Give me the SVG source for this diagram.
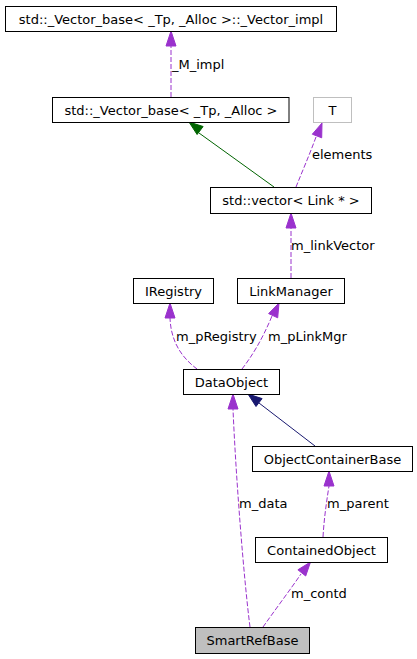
<svg xmlns="http://www.w3.org/2000/svg" width="417" height="659" viewBox="0 0 417 659">
<style>
text{font-family:"DejaVu Sans","Liberation Sans",sans-serif;font-size:13px;fill:#000}
.n{text-anchor:middle}
.box{fill:#fff;stroke:#000;stroke-width:1}
.ref{fill:none;stroke:#9a32cd;stroke-width:1;stroke-dasharray:5,2}
.ah{fill:#9a32cd;stroke:#9a32cd}
</style>
<rect width="417" height="659" fill="#fff"/>
<g id="connectors">
<path class="ref" d="M171,97 L171,46"/>
<polygon class="ah" points="171,31 166,46 176,46"/>
<path d="M274,187 L199,133" fill="none" stroke="#006400"/>
<polygon fill="#006400" stroke="#006400" points="189,122 203.1,126.5 197.1,134.5"/>
<path class="ref" d="M296,187 C302,172 309,156 316,137"/>
<polygon class="ah" points="322,123 321.7,137.8 312.3,134.2"/>
<path class="ref" d="M291,278 L291,228"/>
<polygon class="ah" points="291,213 286,228 296,228"/>
<path class="ref" d="M197,369 C185,360 171,345 170,318"/>
<polygon class="ah" points="170,303 165,318 175,318"/>
<path class="ref" d="M242,369 C252,356 262,340 272,316"/>
<polygon class="ah" points="279,303 277.7,317.8 268.6,313.6"/>
<path d="M315,446 L259,403" fill="none" stroke="#191970"/>
<polygon fill="#191970" stroke="#191970" points="248,394 262.1,398.6 256,406.5"/>
<path class="ref" d="M250,627 C244,580 236,480 233,409"/>
<polygon class="ah" points="233,394 228,409 238,409"/>
<path class="ref" d="M323,537 C324,520 326,505 329,486"/>
<polygon class="ah" points="329,471 324,486 334,486"/>
<path class="ref" d="M263,627 C275,610 290,590 301,574"/>
<polygon class="ah" points="310.5,562 305.7,576 297.9,569.8"/>
<text x="172" y="69">_M_impl</text>
<text x="312" y="159">elements</text>
<text x="291" y="250">m_linkVector</text>
<text x="176" y="341">m_pRegistry</text>
<text x="268" y="341">m_pLinkMgr</text>
<text x="239" y="508">m_data</text>
<text x="327" y="508">m_parent</text>
<text x="291" y="598">m_contd</text>
</g>
<g id="vector_impl"><rect class="box" x="5.5" y="6.5" width="331" height="25"/><text class="n" x="171" y="23.5">std::_Vector_base&lt; _Tp, _Alloc &gt;::_Vector_impl</text></g>
<g id="vector_base"><rect class="box" x="52.5" y="97.5" width="236.5" height="25"/><text class="n" x="171" y="114.5">std::_Vector_base&lt; _Tp, _Alloc &gt;</text></g>
<g id="T"><rect x="313.5" y="97.5" width="38" height="25" fill="#fff" stroke="#bfbfbf"/><text class="n" x="332.5" y="114.5">T</text></g>
<g id="vector_link"><rect class="box" x="210.5" y="187.5" width="161" height="26"/><text class="n" x="291" y="205">std::vector&lt; Link * &gt;</text></g>
<g id="IRegistry"><rect class="box" x="133.5" y="278.5" width="80" height="25"/><text class="n" x="173.5" y="295.5">IRegistry</text></g>
<g id="LinkManager"><rect class="box" x="237.5" y="278.5" width="107" height="25"/><text class="n" x="291" y="295.5">LinkManager</text></g>
<g id="DataObject"><rect class="box" x="183.5" y="369.5" width="96" height="25"/><text class="n" x="231.5" y="386.5">DataObject</text></g>
<g id="ObjectContainerBase"><rect class="box" x="252.5" y="446.5" width="160" height="25"/><text class="n" x="332.5" y="463.5">ObjectContainerBase</text></g>
<g id="ContainedObject"><rect class="box" x="255.5" y="537.5" width="132" height="25"/><text class="n" x="321.5" y="554.5">ContainedObject</text></g>
<g id="SmartRefBase"><rect x="195.5" y="627.5" width="114" height="26" fill="#bfbfbf" stroke="#000"/><text class="n" x="252.5" y="645">SmartRefBase</text></g>
</svg>
